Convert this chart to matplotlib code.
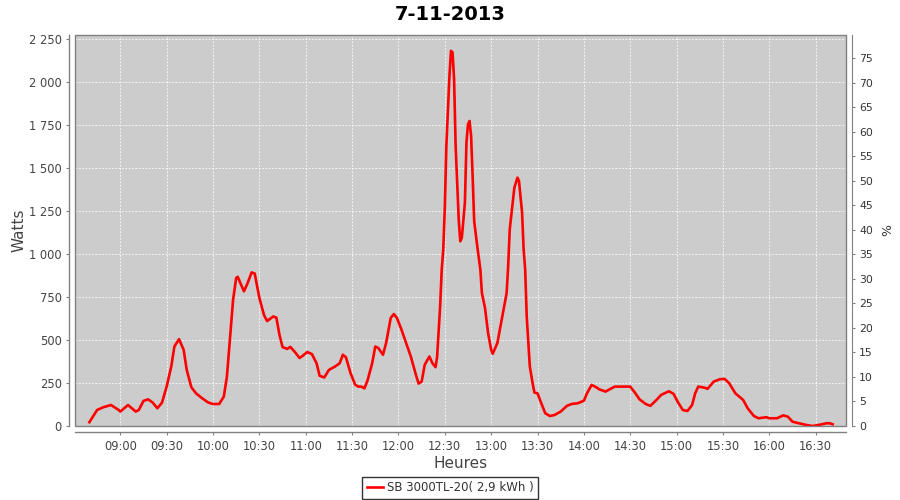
import matplotlib
matplotlib.use("Agg")
import matplotlib.pyplot as plt
from matplotlib.patches import Rectangle

title = "7-11-2013"
series_name = "SB 3000TL-20( 2,9 kWh )"

times = ["08:40", "08:45", "08:49", "08:54", "08:59", "09:00", "09:05", "09:10", "09:12", "09:15",
         "09:18", "09:21", "09:24", "09:27", "09:30", "09:33", "09:35", "09:38", "09:41", "09:43",
         "09:46", "09:49", "09:53", "09:57", "10:00", "10:04", "10:07", "10:09", "10:11", "10:13",
         "10:15", "10:16", "10:20", "10:22", "10:25", "10:27", "10:30", "10:33", "10:35", "10:39",
         "10:41", "10:43", "10:45", "10:48", "10:50", "10:53", "10:56", "10:58", "11:01", "11:04",
         "11:07", "11:09", "11:12", "11:15", "11:19", "11:22", "11:24", "11:26", "11:29", "11:32",
         "11:34", "11:36", "11:38", "11:40", "11:43", "11:45", "11:47", "11:50", "11:52", "11:55",
         "11:57", "11:59", "12:02", "12:05", "12:08", "12:11", "12:13", "12:15", "12:17", "12:20",
         "12:22", "12:24", "12:25", "12:27", "12:28", "12:29", "12:30", "12:31", "12:33", "12:34",
         "12:35", "12:36", "12:37", "12:39", "12:40", "12:41", "12:43", "12:44", "12:45", "12:46",
         "12:47", "12:48", "12:49", "12:51", "12:53", "12:54", "12:56", "12:58", "13:00", "13:01",
         "13:04", "13:06", "13:08", "13:10", "13:11", "13:12", "13:15", "13:17", "13:18", "13:20",
         "13:21", "13:22", "13:23", "13:25", "13:27", "13:28", "13:30", "13:32", "13:35", "13:38",
         "13:41", "13:45", "13:49", "13:52", "13:56", "14:00", "14:02", "14:05", "14:08", "14:10",
         "14:14", "14:16", "14:20", "14:30", "14:33", "14:36", "14:40", "14:43", "14:47", "14:50",
         "14:55", "14:58", "15:01", "15:04", "15:07", "15:10", "15:12", "15:14", "15:18", "15:20",
         "15:24", "15:28", "15:31", "15:34", "15:38", "15:43", "15:46", "15:50", "15:53", "15:58",
         "16:00", "16:05", "16:09", "16:12", "16:15", "16:19", "16:24", "16:28", "16:33", "16:37",
         "16:39", "16:41"]

watts = [22, 93, 109, 122, 93, 84, 122, 84, 93, 146,
         155, 136, 103, 136, 229, 346, 462, 505, 443, 326,
         225, 190, 161, 136, 128, 128, 171, 287, 511, 734,
         861, 867, 783, 822, 893, 886, 745, 645, 610, 637,
         630, 530, 459, 448, 460, 430, 395, 408, 430, 418,
         365, 292, 282, 326, 346, 365, 414, 400, 307, 240,
         229, 229, 219, 265, 365, 462, 453, 414, 482, 628,
         651, 628, 559, 482, 404, 307, 247, 258, 356, 404,
         365, 342, 400, 700, 909, 1026, 1269, 1628, 2036, 2181,
         2172, 2017, 1628, 1201, 1074, 1094, 1298, 1648, 1754, 1773,
         1686, 1453, 1191, 1045, 909, 773, 686, 540, 443, 420,
         482, 579, 676, 773, 928, 1142, 1385, 1444, 1424, 1240,
         1026, 909, 637, 346, 239, 194, 190, 142, 74, 58,
         64, 84, 117, 128, 132, 147, 190, 239, 225, 213,
         200, 210, 229, 229, 194, 155, 128, 117, 152, 181,
         202, 187, 136, 93, 87, 122, 190, 229, 223, 216,
         258, 272, 274, 249, 190, 152, 103, 58, 45, 51,
         45, 45, 62, 54, 25, 16, 6, 0, 8, 16,
         16, 10]

x_ticks = ["09:00", "09:30", "10:00", "10:30", "11:00", "11:30", "12:00", "12:30",
           "13:00", "13:30", "14:00", "14:30", "15:00", "15:30", "16:00", "16:30"]
watt_ticks = [0, 250, 500, 750, 1000, 1250, 1500, 1750, 2000, 2250]
pct_ticks = [0, 5, 10, 15, 20, 25, 30, 35, 40, 45, 50, 55, 60, 65, 70, 75]


def to_hours(s):
    h, m = s.split(":")
    return int(h) + int(m) / 60.0


x = [to_hours(t) for t in times]
xt = [to_hours(t) for t in x_ticks]

plt.rcParams['font.family'] = ['DejaVu Sans']

fig = plt.figure(figsize=(9, 5), dpi=100)
ax = fig.add_axes([75 / 900, 1 - 426 / 500, (846 - 75) / 900, (426 - 35) / 500])
ax.set_facecolor("#cccccc")

ax.plot(x, watts, color="#ff0000", lw=1.9, solid_joinstyle="round", zorder=3,
        label=series_name)

ax.set_xlim(to_hours("08:30") + 0.7 / 60, to_hours("16:49") + 0.6 / 60)
ax.set_ylim(0, 2273)

ax.set_xticks(xt)
ax.set_xticklabels(x_ticks)
ax.set_yticks(watt_ticks)
ax.set_yticklabels([f"{v:,}".replace(",", " ") for v in watt_ticks])

ax.grid(True, color="white", linestyle=(0, (2, 2)), linewidth=0.6)
ax.set_axisbelow(True)

for side in ["top", "right"]:
    ax.spines[side].set_visible(False)
for side in ["left", "bottom"]:
    ax.spines[side].set_position(("outward", 4))
    ax.spines[side].set_color("#808080")
    ax.spines[side].set_linewidth(1.0)

ax.add_patch(Rectangle((0, 0), 1, 1, transform=ax.transAxes, fill=False,
                       edgecolor="#808080", linewidth=1.0, zorder=5, clip_on=False))

ax.tick_params(axis="both", colors="#808080", labelcolor="#444444", labelsize=8.3,
               length=2, width=0.8)
ax.tick_params(axis="x", pad=4)

ax.set_xlabel("Heures", fontsize=11, color="#444444", labelpad=2)
ax.set_ylabel("Watts", fontsize=11, color="#444444", labelpad=2)

ax2 = ax.twinx()
ax2.set_ylim(0, 79.75)
ax2.set_yticks(pct_ticks)
for side in ["top", "left", "bottom"]:
    ax2.spines[side].set_visible(False)
ax2.spines["right"].set_position(("outward", 4))
ax2.spines["right"].set_color("#808080")
ax2.tick_params(axis="y", colors="#808080", labelcolor="#333333", labelsize=7.8,
                length=2, width=0.8)
ax2.set_ylabel("%", fontsize=9, color="#333333", labelpad=6)

fig.suptitle(title, x=0.5, y=1 - 14 / 500, va="center", fontsize=14, fontweight="bold",
             color="black")

leg = fig.legend(loc="center", bbox_to_anchor=(450 / 900, 1 - 488 / 500), fontsize=8.5,
                 frameon=True, fancybox=False, handlelength=1.4, handletextpad=0.3,
                 borderpad=0.35, labelcolor="#333333")
leg.get_frame().set_edgecolor("black")
leg.get_frame().set_linewidth(1.0)

fig.savefig("out.png", dpi=100)
